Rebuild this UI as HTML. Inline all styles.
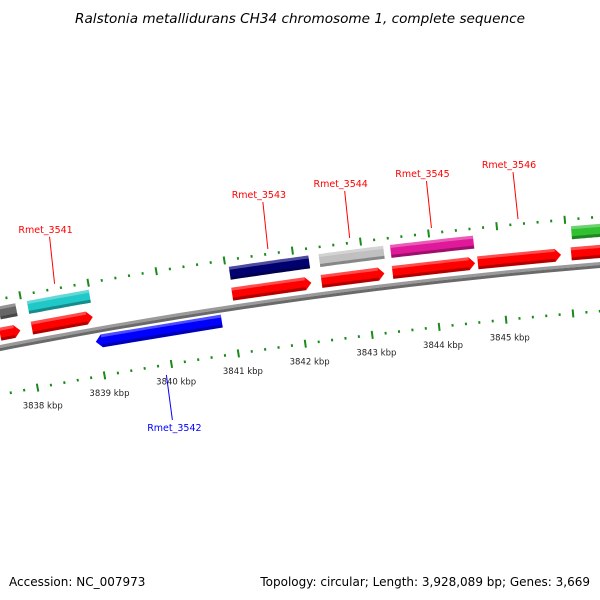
<!DOCTYPE html>
<html><head><meta charset="utf-8">
<style>
html,body{margin:0;padding:0;background:#fff;}
svg{display:block;font-family:"DejaVu Sans","Liberation Sans",sans-serif;}
</style></head>
<body>
<svg id="map" width="600" height="600" viewBox="0 0 600 600">
<text x="300" y="23" text-anchor="middle" font-size="13.6" font-style="italic" fill="#000">Ralstonia metallidurans CH34 chromosome 1, complete sequence</text>
<g id="g-back"></g>
<g id="g-ticks"></g>
<g id="g-genes"></g>
<g id="g-labels"></g>
<text x="9" y="586" font-size="12" fill="#000">Accession: NC_007973</text>
<text x="590" y="586" text-anchor="end" font-size="12" fill="#000">Topology: circular; Length: 3,928,089 bp; Genes: 3,669</text>
</svg>
<script>
// ---- data ----
const tickStartKbp = 3837;
const tickEndKbp = 3847;
const majorLabels = [3838, 3839, 3840, 3841, 3842, 3843, 3844, 3845];
const geneNames = ["g0","g1","g2","g3","g4","g5","g6","c0","Rmet_3541","Rmet_3543","Rmet_3544","Rmet_3545","c5","Rmet_3542"];
const geneStart = [3837.61,3838.08,3841.04,3842.36,3843.41,3844.67,3846.05,3837.66,3838.08,3841.05,3842.37,3843.42,3846.08,3838.96];
const geneEnd   = [3837.91,3838.98,3842.21,3843.29,3844.63,3845.90,3846.65,3837.91,3838.99,3842.22,3843.32,3844.64,3846.69,3840.83];
const geneRow   = ["fwd","fwd","fwd","fwd","fwd","fwd","fwd","top","top","top","top","top","top","rev"];
const geneColor = ["#ff0000","#ff0000","#ff0000","#ff0000","#ff0000","#ff0000","#ff0000","#666666","#20c8c8","#000070","#c0c0c0","#e0189a","#30c030","#0000ff"];
const labelNames = ["Rmet_3541","Rmet_3543","Rmet_3544","Rmet_3545","Rmet_3546","Rmet_3542"];
const labelKbp   = [3838.52,3841.65,3842.85,3844.05,3845.32,3839.90];
const labelColor = ["#ff0000","#ff0000","#ff0000","#ff0000","#ff0000","#0000ff"];

// ---- geometry ----
const NS="http://www.w3.org/2000/svg";
const A=0.0000944, B=-0.195, C=348;
function by(s){return C+B*s+A*s*s;}
function dy(s){return B+2*A*s;}
function sOf(k){return 164+(k-3840)*67.5;}
function pt(s,d){const t=dy(s),l=Math.sqrt(1+t*t);return [s+(-t/l)*d, by(s)+(1/l)*d];}
function mk(tag,attrs,parent){const e=document.createElementNS(NS,tag);for(const k in attrs)e.setAttribute(k,attrs[k]);parent.appendChild(e);return e;}
function band(s0,s1,d0,d1){const a=[],b=[];const n=20;for(let i=0;i<=n;i++){const s=s0+(s1-s0)*i/n;a.push(pt(s,d0));b.unshift(pt(s,d1));}return a.concat(b).map(p=>p[0].toFixed(1)+","+p[1].toFixed(1)).join(" ");}

// backbone
const gb=document.getElementById('g-back');
let bb1=mk('polygon',{points:band(-20,640,-3,0),fill:'#9a9a9a'},gb);


let bb2=mk('polygon',{points:band(-20,640,0,3),fill:'#6a6a6a'},gb);



// ticks
const gt=document.getElementById('g-ticks');
for(let i=0;i<=Math.round((tickEndKbp-tickStartKbp)/0.2);i++){
  const k=tickStartKbp+i*0.2;const s=sOf(k);const major=Math.abs(k-Math.round(k))<0.01;
  const h=major?4:1.3;
  [-48,46].forEach(d=>{
    const p0=pt(s,d-h),p1=pt(s,d+h);
    const ln=mk('line',{x1:p0[0],y1:p0[1],x2:p1[0],y2:p1[1],stroke:'#1a8a1a','stroke-width':2},gt);
    
    
  });
}
majorLabels.forEach(k=>{
  const p=pt(sOf(k),63);
  const t=mk('text',{x:p[0]+2,y:p[1]+4,'text-anchor':'middle','font-size':'8.5',fill:'#222'},gt);
  t.textContent=k+' kbp';
  
  
});

// genes
const gg=document.getElementById('g-genes');
const rowD={fwd:[-20,-7],top:[-41,-28],rev:[5,18]};
for(let i=0;i<geneStart.length;i++){
  const s0=sOf(geneStart[i]),s1=sOf(geneEnd[i]);const [d0,d1]=rowD[geneRow[i]];
  const g=mk('g',{},gg);
  
  
  let pts;
  if(geneRow[i]==='fwd'){
    const a=[pt(s0,d0),pt(s1-6,d0),pt(s1,(d0+d1)/2),pt(s1-6,d1),pt(s0,d1)];
    pts=a.map(p=>p.join(',')).join(' ');
  } else if(geneRow[i]==='rev'){
    const a=[pt(s0+6,d0),pt(s1,d0),pt(s1,d1),pt(s0+6,d1),pt(s0,(d0+d1)/2)];
    pts=a.map(p=>p.join(',')).join(' ');
  } else pts=band(s0,s1,d0,d1);
  mk('polygon',{points:pts,fill:geneColor[i]},g);
  mk('polygon',{points:band(s0+(geneRow[i]==='rev'?6:0),s1-(geneRow[i]==='fwd'?6:0),d1-3,d1),fill:'#000','fill-opacity':0.3},g);
  mk('polygon',{points:band(s0+(geneRow[i]==='rev'?6:0),s1-(geneRow[i]==='fwd'?6:0),d0,d0+3),fill:'#fff','fill-opacity':0.3},g);
}

// labels
const gl=document.getElementById('g-labels');
for(let i=0;i<labelNames.length;i++){
  const s=sOf(labelKbp[i]);const rev=labelColor[i]==='#0000ff';
  let x1,y1,x2,y2,tx,ty;
  if(rev){const p=pt(s,56);x1=p[0];y1=p[1];x2=x1+6;y2=y1+45;tx=x2+2;ty=y2+11;}
  else{const p=pt(s,-53);x1=p[0];y1=p[1];x2=x1-5;y2=y1-47;tx=x2-4;ty=y2-4;}
  const ln=mk('line',{x1:x1,y1:y1,x2:x2,y2:y2,stroke:labelColor[i],'stroke-width':1},gl);
  
  
  const t=mk('text',{x:tx,y:ty,'text-anchor':'middle','font-size':'9.5',fill:labelColor[i]},gl);
  t.textContent=labelNames[i];
  
  
}
</script>
</body></html>
